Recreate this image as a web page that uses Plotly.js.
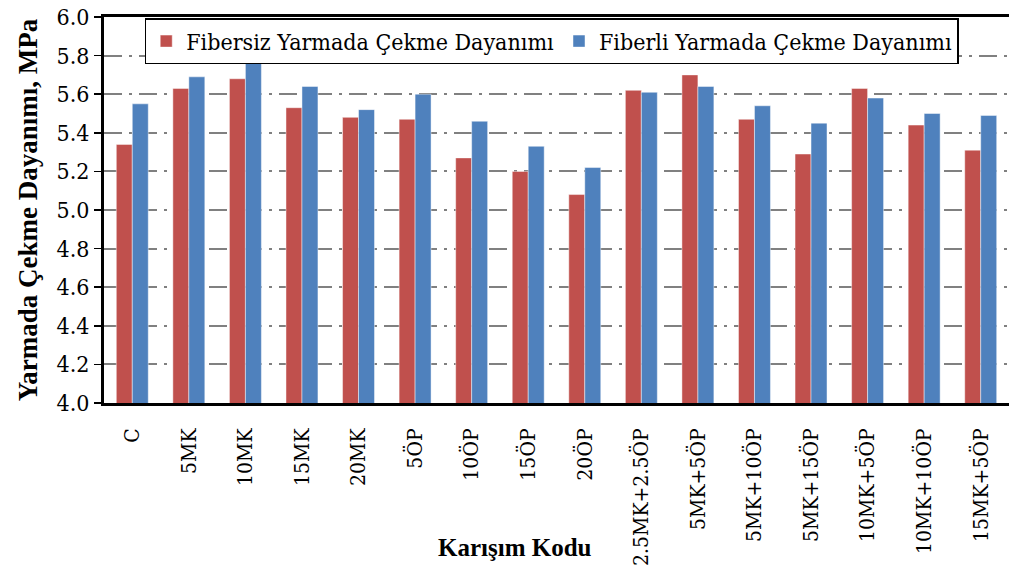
<!DOCTYPE html>
<html>
<head>
<meta charset="utf-8">
<script src="https://cdn.plot.ly/plotly-3.0.1.min.js"></script>
<style>html,body{margin:0;padding:0;background:#fff;}#chart{width:1009px;height:581px;}</style>
</head>
<body>
<div id="chart"></div>
<script>
const categories = ["C","5MK","10MK","15MK","20MK","5ÖP","10ÖP","15ÖP","20ÖP","2.5MK+2.5ÖP","5MK+5ÖP","5MK+10ÖP","5MK+15ÖP","10MK+5ÖP","10MK+10ÖP","15MK+5ÖP"];
const fibersiz = [5.34,5.63,5.68,5.53,5.48,5.47,5.27,5.20,5.08,5.62,5.70,5.47,5.29,5.63,5.44,5.31];
const fiberli  = [5.55,5.69,5.78,5.64,5.52,5.60,5.46,5.33,5.22,5.61,5.64,5.54,5.45,5.58,5.50,5.49];
const seriesNames = ["Fibersiz Yarmada Çekme Dayanımı","Fiberli Yarmada Çekme Dayanımı"];
const yTicks = [4.0,4.2,4.4,4.6,4.8,5.0,5.2,5.4,5.6,5.8,6.0];

const serifBold = 'Liberation Serif';
const serifReg = 'DejaVu Serif Condensed, DejaVu Serif';
const traces = [
  {type:'bar', x:categories, y:fibersiz, name:seriesNames[0],
   marker:{color:'#C0504D', line:{color:'rgba(255,255,255,0.45)', width:1}}},
  {type:'bar', x:categories, y:fiberli, name:seriesNames[1],
   marker:{color:'#4F81BD', line:{color:'rgba(255,255,255,0.45)', width:1}}}
];
const layout = {
  width:1009, height:581,
  margin:{l:104, r:0, t:17, b:178},
  paper_bgcolor:'#fff', plot_bgcolor:'#fff',
  barmode:'group', bargap:0.435, bargroupgap:0,
  font:{family:serifReg, color:'#000'},
  xaxis:{
    type:'category', tickangle:-90, tickfont:{family:serifReg, size:21, color:'#000'},
    showline:true, linecolor:'#000', linewidth:3, mirror:true,
    ticks:'', showgrid:false, automargin:false, ticklabelstandoff:14
  },
  yaxis:{
    range:[4.0,6.0], tickvals:yTicks, tickformat:'.1f',
    tickfont:{family:serifReg, size:23, color:'#000'},
    ticks:'outside', ticklen:7, tickwidth:1.5, tickcolor:'#000',
    showline:true, linecolor:'#000', linewidth:3, mirror:false,
    showgrid:true, gridcolor:'#808080', gridwidth:2, griddash:'18px,7px,3px,7px',
    zeroline:false, automargin:false,
    title:{text:'Yarmada Çekme Dayanımı, MPa', font:{family:serifBold, size:27, color:'#000', weight:'bold'}, standoff:12}
  },
  showlegend:true,
  legend:{
    orientation:'h', x:0.045, y:0.997, xanchor:'left', yanchor:'top',
    bgcolor:'#fff', bordercolor:'#000', borderwidth:1.5,
    font:{family:serifReg, size:23, color:'#000'},
    traceorder:'normal', itemwidth:30, tracegroupgap:0
  },
  annotations:[{
    text:'Karışım Kodu', xref:'paper', yref:'paper', x:(515-104)/905, y:-0.375,
    xanchor:'center', yanchor:'middle', showarrow:false,
    font:{family:serifBold, size:25, color:'#000', weight:'bold'}
  }]
};
Plotly.newPlot('chart', traces, layout, {displayModeBar:false, staticPlot:true});
</script>
</body>
</html>
